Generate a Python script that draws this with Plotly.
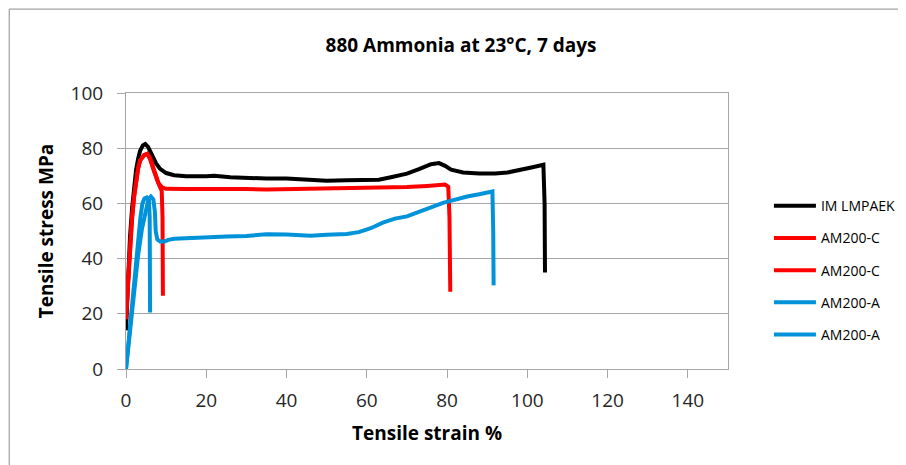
import plotly.graph_objects as go

# IM LMPAEK
black_x = [0, 0.5, 1.0, 1.5, 2.0, 2.5, 3.0, 3.5, 4.2, 4.8, 5.5, 6.5, 7.5, 8.5, 10, 12, 15, 20, 22, 26,
           30, 35, 40, 45, 50, 55, 60, 63, 66, 70, 73, 76, 78, 79.5, 81, 84, 88, 92, 95, 98, 101, 104,
           104.3, 104.4]
black_y = [14, 35, 48, 58, 66, 72, 76, 79, 81, 81.5, 80.5, 77.5, 74.5, 72.5, 71, 70.2, 69.8, 69.8, 70, 69.5,
           69.2, 69, 69, 68.6, 68.2, 68.4, 68.4, 68.6, 69.5, 70.8, 72.4, 74.2, 74.6, 73.6, 72.2, 71.2, 70.8,
           70.8, 71.2, 72, 73, 74, 60, 35]

# AM200-C, first specimen (short)
red1_x = [0, 0.5, 1, 1.5, 2, 2.5, 3, 3.5, 4.5, 5.3, 6, 6.8, 7.5, 8.3, 8.9, 9.1, 9.2]
red1_y = [18, 32, 44, 54, 62, 68, 72.5, 75.5, 77.5, 78, 76.5, 73, 69.5, 66.5, 64.5, 55, 26.5]

# AM200-C, second specimen (long)
red2_x = [0, 0.5, 1, 1.5, 2, 2.5, 3, 3.5, 4.5, 5.3, 6, 7, 8, 9, 10, 15, 20, 25, 30, 35, 40, 45, 50,
          55, 60, 65, 70, 75, 78, 79.5, 80.3, 80.6, 80.8]
red2_y = [20, 33, 45, 55, 62.5, 68, 72.5, 75.5, 77.5, 78, 76, 71.5, 67.5, 65.8, 65.3, 65.2, 65.3, 65.3,
          65.2, 65, 65.1, 65.4, 65.3, 65.4, 65.5, 65.7, 65.9, 66.3, 66.7, 66.8, 66, 55, 28]

# AM200-A, first specimen (short)
blue1_x = [0, 1, 2, 3, 3.6, 4.1, 4.6, 5.2, 5.7, 5.9, 6.0]
blue1_y = [0, 16, 32, 47, 55, 60, 61.8, 62.2, 61.5, 55, 20.5]

# AM200-A, second specimen (long)
blue2_x = [0, 1, 2, 3, 4, 5, 5.6, 6.2, 6.8, 7.2, 7.4, 7.8, 8.5, 9.6, 10.5, 12, 15, 20, 25, 30, 35, 40,
           43, 46, 50, 55, 58, 61, 64, 67, 70, 73, 76, 79, 82, 85, 88, 91.3, 91.5, 91.6]
blue2_y = [0, 14, 28, 41, 51, 58, 61.5, 62.5, 61.5, 57, 50, 47, 46.2, 46.2, 46.8, 47.2, 47.3, 47.6, 48,
           48.2, 48.8, 48.7, 48.4, 48.3, 48.6, 48.9, 49.6, 51, 53, 54.5, 55.3, 56.8, 58.6, 60.2, 61.5,
           62.5, 63.3, 64.3, 50, 30.3]

series = [
    ("IM LMPAEK", black_x, black_y, "#000000"),
    ("AM200-C", red1_x, red1_y, "#FF0000"),
    ("AM200-C", red2_x, red2_y, "#FF0000"),
    ("AM200-A", blue1_x, blue1_y, "#0093D9"),
    ("AM200-A", blue2_x, blue2_y, "#0093D9"),
]

font_main = "Open Sans, DejaVu Sans, sans-serif"
grid_col = "#A6A6A6"

fig = go.Figure()
for i, (name, xs, ys, col) in enumerate(series):
    fig.add_trace(go.Scatter(x=xs, y=ys, name=name, mode="lines",
                             legendgroup=str(i),
                             line=dict(color=col, width=4)))

fig.update_xaxes(range=[0, 150], dtick=20, tick0=0,
                 showgrid=False, zeroline=False,
                 showline=True, linecolor=grid_col, linewidth=1, mirror=True,
                 ticks="outside", ticklen=8, tickcolor=grid_col, ticklabelstandoff=6,
                 tickfont=dict(size=19, color="#262626"),
                 title=dict(text="<b>Tensile strain %</b>", font=dict(size=19, color="black"),
                            standoff=14))

fig.update_yaxes(range=[0, 100], dtick=20, tick0=0,
                 showgrid=True, gridcolor=grid_col, gridwidth=1, zeroline=False,
                 showline=True, linecolor=grid_col, linewidth=1, mirror=True,
                 ticks="outside", ticklen=8, tickcolor=grid_col, ticklabelstandoff=10,
                 tickfont=dict(size=19, color="#262626"),
                 title=dict(text="<b>Tensile stress MPa</b>", font=dict(size=19, color="black"),
                            standoff=11))

# outer chart frame
fig.add_shape(type="rect", xref="paper", yref="paper",
              x0=-0.194, x1=1.31, y0=-0.37, y1=1.304,
              line=dict(color="#8C8C8C", width=1), fillcolor="rgba(0,0,0,0)")

# page body adds an 8px offset, so margins are shifted to keep the plot area in place
fig.update_layout(
    width=906, height=465,
    margin=dict(l=118, r=186, t=85, b=104),
    paper_bgcolor="white", plot_bgcolor="white",
    font=dict(family=font_main, color="black"),
    title=dict(text="<b>880 Ammonia at 23°C, 7 days</b>", x=0.5, xanchor="center",
               y=0.92, yanchor="middle", font=dict(size=19, color="black")),
    legend=dict(x=1.068, y=0.648, xanchor="left", yanchor="top",
                font=dict(size=14, color="black"),
                tracegroupgap=11, itemwidth=42,
                bgcolor="rgba(0,0,0,0)"),
    showlegend=True,
)

fig.write_html("out.html")
